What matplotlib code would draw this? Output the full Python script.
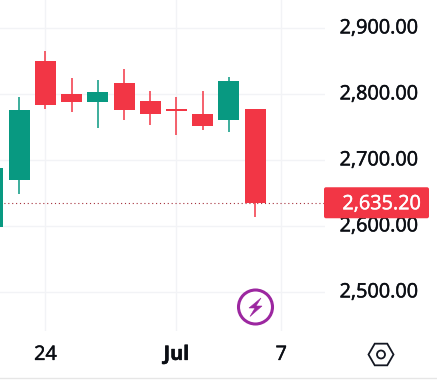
import matplotlib
matplotlib.use("Agg")
import matplotlib.pyplot as plt
import matplotlib.patheffects as pe
from matplotlib.transforms import ScaledTranslation
from matplotlib.patches import Circle, Polygon, RegularPolygon, FancyBboxPatch

plt.rcParams['font.family'] = ['Open Sans', 'DejaVu Sans']

# candles, left to right
opens = [2599, 2669, 2850, 2800, 2788, 2817, 2789, 2777, 2770, 2760, 2777]
closes = [2688, 2776, 2784, 2788, 2803, 2775, 2769, 2774, 2752, 2820, 2635.2]
highs = [2688, 2795, 2865, 2824, 2821, 2838, 2805, 2795, 2805, 2825, 2777]
lows = [2599, 2649, 2778, 2773, 2749, 2761, 2753, 2738, 2746, 2743, 2614]

price_ticks = [2500, 2600, 2700, 2800, 2900]
date_pos = [2, 7, 11]
date_labels = ["24", "Jul", "7"]
last_price = 2635.20

UP = "#089981"
DOWN = "#f23645"
GRID = "#f2f3f6"
W, H = 437, 384

fig = plt.figure(figsize=(W / 100, H / 100), dpi=100)
ax = fig.add_axes([0, (H - 331) / H, 325 / W, 331 / H])
ax.set_xlim(0.267, 12.67)
ax.set_ylim(2440.9, 2942.4)

for i in range(len(opens)):
    col = UP if closes[i] >= opens[i] else DOWN
    ax.vlines(i, lows[i], highs[i], color=col, lw=1.1, zorder=3)
    ax.bar(i, abs(closes[i] - opens[i]), bottom=min(opens[i], closes[i]),
           width=0.8, color=col, zorder=3)

ax.axhline(last_price, color="#a5303c", lw=0.8, ls=(0, (1, 2.5)), zorder=2)

ax.grid(True, color=GRID, lw=1)
ax.set_axisbelow(True)
for s in ax.spines.values():
    s.set_visible(False)
ax.yaxis.tick_right()
ax.set_yticks(price_ticks)
ax.set_yticklabels([f"{p:,.2f}" for p in price_ticks], fontsize=14.3, color="#0b0e14")
ax.set_xticks(date_pos)
ax.set_xticklabels(date_labels, fontsize=14.3, color="#0b0e14")
ax.get_xticklabels()[1].set_fontweight("bold")
ax.tick_params(axis="y", length=0, pad=10.5)
ax.tick_params(axis="x", length=0, pad=10)

# tick labels sit a little above their gridlines, and read slightly heavier
thicker = [pe.withStroke(linewidth=0.35, foreground="#0b0e14")]
up_1px = ScaledTranslation(0, 1.5 / 72, fig.dpi_scale_trans)
for t in ax.yaxis.get_major_ticks():
    t.label2.set_va("center_baseline")
    t.label2.set_transform(t.label2.get_transform() + up_1px)
    t.label2.set_path_effects(thicker)
for lab in ax.get_xticklabels():
    lab.set_path_effects(thicker)

# overlay in pixels for the badge and icons
ov = fig.add_axes([0, 0, 1, 1], zorder=5)
ov.set_xlim(0, W)
ov.set_ylim(H, 0)
ov.axis("off")
ov.patch.set_alpha(0)

badge_y = ov.transData.inverted().transform(ax.transData.transform((0, last_price)))[1]
ov.add_patch(FancyBboxPatch((324, badge_y - 15.5), 105, 31,
                            boxstyle="round,pad=0,rounding_size=2",
                            fc=DOWN, ec="none"))
ov.text(421, badge_y - 1, f"{last_price:,.2f}", color="white", fontsize=14.3,
        ha="right", va="center_baseline",
        path_effects=[pe.withStroke(linewidth=0.35, foreground="white")])

PURPLE = "#9c27a0"
ov.add_patch(Circle((255.5, 307), 17, fc="white", ec=PURPLE, lw=2.2))
ov.add_patch(Polygon([(261, 298), (249, 308), (255, 308), (250, 316.5),
                      (262, 306), (256, 306)], fc=PURPLE, ec=PURPLE, lw=0.4))

ov.add_patch(RegularPolygon((381, 354.5), 6, radius=12.5, orientation=3.14159 / 2,
                            fc="white", ec="#131722", lw=1.3))
ov.add_patch(Circle((381, 354.5), 4, fc="white", ec="#131722", lw=1.3))
ov.plot([0, W], [378, 378], color="#e6e6e6", lw=1)

fig.savefig("out.png", dpi=100)
